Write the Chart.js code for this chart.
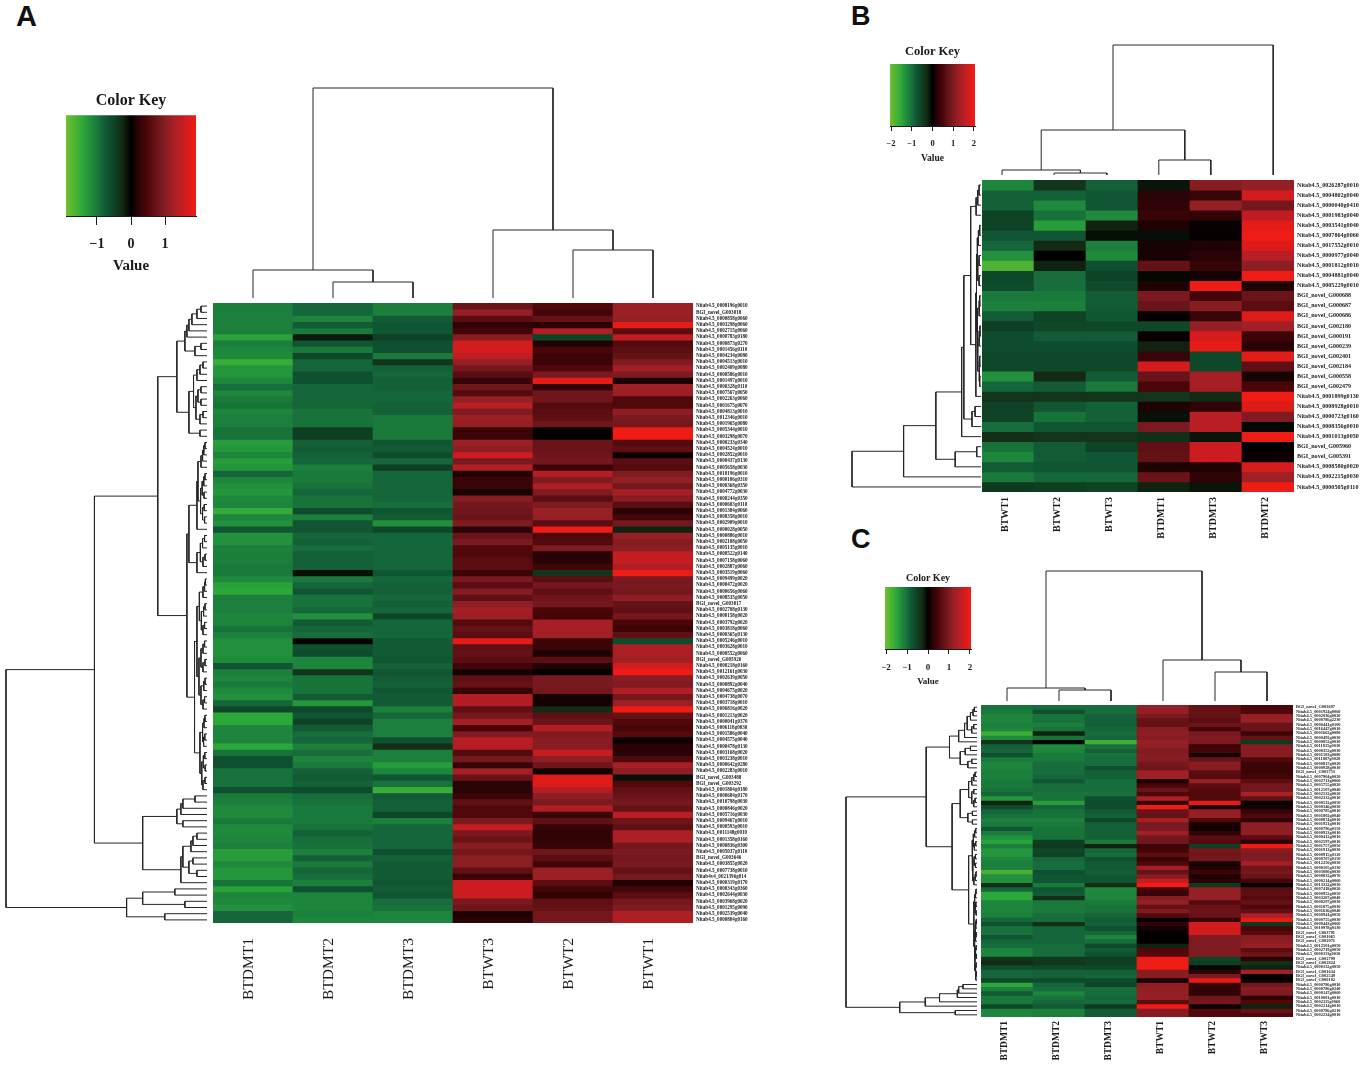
<!DOCTYPE html>
<html>
<head>
<meta charset="utf-8">
<title>Heatmaps</title>
<script src="https://cdn.jsdelivr.net/npm/chart.js@4"></script>
<style>
  html, body { margin: 0; padding: 0; background: #fff; }
  body { position: relative; width: 1366px; height: 1068px; overflow: hidden; }
  canvas { position: absolute; }
  .letter { position: absolute; font-family: "Liberation Sans", sans-serif; font-weight: bold; line-height: 1; color: #111; }
</style>
</head>
<body>
<div class="letter" style="left:16px;top:2px;font-size:29px">A</div>
<div class="letter" style="left:851px;top:3px;font-size:27px">B</div>
<div class="letter" style="left:851px;top:526px;font-size:27px">C</div>
<script>
// Colour ramp (value -> colour)
const rampValues = [-1.9, -1.4, -1.15, -1.0, -0.85, -0.65, -0.45, -0.25, 0, 0.2, 0.45, 0.65, 0.9, 1.15, 1.35, 1.55, 1.85, 1.9];
const rampColors = ['#72bf2e', '#2ca83a', '#1f8a3c', '#1a7a3c', '#15663a', '#0f5030', '#0f3f22', '#142a14', '#000000', '#2a0306', '#4a0508', '#601014', '#7a1a20', '#9a2026', '#b21e24', '#cc1c20', '#ee1c14', '#ee1c14'];

// Panel A
const colsA = ['BTDMT1', 'BTDMT2', 'BTDMT3', 'BTWT3', 'BTWT2', 'BTWT1'];
const keyTicksA = [-1, 0, 1];
const rowsA = ['Nitab4.5_0008196g0010','BGI_novel_G003018','Nitab4.5_0000858g0060','Nitab4.5_0003298g0060','Nitab4.5_0002715g0060','Nitab4.5_0000783g0180','Nitab4.5_0000873g0270','Nitab4.5_0001456g0110','Nitab4.5_0004234g0080','Nitab4.5_0004513g0010','Nitab4.5_0002409g0080','Nitab4.5_0000586g0010','Nitab4.5_0001497g0010','Nitab4.5_0000328g0110','Nitab4.5_0007567g0050','Nitab4.5_0002263g0060','Nitab4.5_0001675g0070','Nitab4.5_0004813g0010','Nitab4.5_0012346g0010','Nitab4.5_0001965g0080','Nitab4.5_0005344g0010','Nitab4.5_0003298g0070','Nitab4.5_0000233g0340','Nitab4.5_0004524g0010','Nitab4.5_0002852g0010','Nitab4.5_0000437g0130','Nitab4.5_0005658g0030','Nitab4.5_0010196g0010','Nitab4.5_0000106g0310','Nitab4.5_0000368g0350','Nitab4.5_0004772g0030','Nitab4.5_0000244g0350','Nitab4.5_0000683g0110','Nitab4.5_0001384g0060','Nitab4.5_0008358g0010','Nitab4.5_0002909g0010','Nitab4.5_0000028g0050','Nitab4.5_0000886g0010','Nitab4.5_0002108g0050','Nitab4.5_0005135g0010','Nitab4.5_0000522g0140','Nitab4.5_0007158g0060','Nitab4.5_0002887g0060','Nitab4.5_0003519g0060','Nitab4.5_0009499g0020','Nitab4.5_0000472g0020','Nitab4.5_0000656g0060','Nitab4.5_0008535g0050','BGI_novel_G003017','Nitab4.5_0002708g0130','Nitab4.5_0000158g0020','Nitab4.5_0003792g0020','Nitab4.5_0003818g0060','Nitab4.5_0000365g0130','Nitab4.5_0005246g0010','Nitab4.5_0003628g0010','Nitab4.5_0000552g0060','BGI_novel_G005926','Nitab4.5_0000218g0160','Nitab4.5_0012161g0030','Nitab4.5_0002639g0050','Nitab4.5_0000892g0040','Nitab4.5_0004675g0020','Nitab4.5_0004738g0070','Nitab4.5_0003718g0010','Nitab4.5_0006816g0020','Nitab4.5_0001213g0020','Nitab4.5_0000041g0370','Nitab4.5_0006118g0030','Nitab4.5_0001586g0040','Nitab4.5_0004575g0040','Nitab4.5_0000478g0130','Nitab4.5_0003168g0020','Nitab4.5_0003238g0010','Nitab4.5_0000642g0280','Nitab4.5_0002283g0010','BGI_novel_G003488','BGI_novel_G003292','Nitab4.5_0001804g0180','Nitab4.5_0000684g0170','Nitab4.5_0010798g0030','Nitab4.5_0000846g0020','Nitab4.5_0005716g0030','Nitab4.5_0009467g0010','Nitab4.5_0000593g0010','Nitab4.5_0011148g0010','Nitab4.5_0001358g0160','Nitab4.5_0000836g0300','Nitab4.5_0005037g0110','BGI_novel_G003646','Nitab4.5_0003855g0020','Nitab4.5_0007738g0010','Nitab4v4_0021396g014','Nitab4.5_0000319g0170','Nitab4.5_0000343g0360','Nitab4.5_0002644g0030','Nitab4.5_0003968g0020','Nitab4.5_0001295g0090','Nitab4.5_0002539g0040','Nitab4.5_0000804g0160'];
const valuesA = [
[-1.05,-.85,-1.05,.75,.5,1.15],[-1.05,-.85,-1.05,1.1,.4,1.15],[-1.05,-1.1,-.75,.6,.7,1.1],[-1.05,-.75,-.7,.25,.2,1.8],[-1.05,-1,-.7,.4,1.35,.6],
[-1.35,-.15,-.5,1,-.5,1.45],[-1.05,-.7,-.65,1.6,.15,.55],[-1.1,-1,-.65,1.6,.45,.6],[-1.15,-.55,-1,1.45,.35,.7],[-1.5,-.85,-.35,1.1,.35,.95],
[-1.25,-.85,-.8,.85,.5,1.2],[-1.25,-.65,-.85,.6,.9,.95],[-1.1,-.65,-.8,.3,1.8,.12],[-.9,-.85,-.8,.8,.25,1.2],[-1.1,-.85,-.85,.55,.8,1.15],
[-1,-.85,-.85,1.1,.8,.5],[-.95,-.85,-.8,1.4,.55,.5],[-1.1,-.95,-.8,.95,.6,1.05],[-1.05,-.95,-1,1.15,.65,.9],[-1.05,-.95,-1,1.1,.8,.85],
[-.95,-.45,-1,.35,.02,1.85],[-.95,-.45,-1,.35,.02,1.85],[-1.3,-.8,-.7,1.15,.75,.55],[-1.25,-.75,-.75,1.05,.75,.65],[-1.1,-.8,-.6,1.55,.8,.05],
[-1.3,-.85,-.85,.9,.85,.6],[-1.25,-1.05,-.45,1.35,.35,.55],[-.85,-1,-.85,.15,1.35,.95],[-1.1,-1,-.85,.35,.95,1.1],[-1.2,-.95,-.85,.3,1.3,.85],
[-1.25,-.85,-.85,.12,.95,1.25],[-1.15,-.95,-.85,1,.6,1],[-1.1,-.95,-.9,.85,.95,.6],[-1.45,-.6,-.7,.8,1.15,.2],[-1.1,-1.05,-.75,.75,1.1,.4],
[-1.2,-.7,-1.2,.95,.6,.85],[-.7,-.7,-.55,.2,1.9,-.2],[-1.2,-.85,-.85,.75,.5,1.1],[-1.2,-.8,-.85,.9,.55,1],[-1.05,-.9,-.85,.5,.95,1.05],
[-1.05,-.8,-.85,.5,.2,1.5],[-1.05,-.8,-.85,.6,.2,1.5],[-1,-.8,-.85,.6,.4,1.35],[-1,-.1,-.7,.35,-.35,1.85],[-1.15,-1,-.85,.9,.6,.9],
[-1.35,-.85,-.8,.6,.85,.9],[-1.4,-.7,-.8,1,.65,.85],[-1.05,-.95,-.85,.65,.8,1.05],[-1.05,-.95,-.8,1.05,.85,.7],[-1.05,-.85,-.85,1.25,.45,.65],
[-1.1,-1.2,-.55,1.15,.4,.85],[-1.1,-.75,-.85,.55,1.25,.45],[-.95,-.85,-.85,.7,1.25,.35],[-1.05,-.9,-.85,.6,1.2,.65],[-1.2,-.02,-.75,1.8,.35,-.6],
[-1.2,-.65,-.75,.65,.3,1.3],[-1.2,-.6,-.75,.7,.15,1.3],[-1.15,-1.1,-.7,.6,.6,1.2],[-.7,-1.1,-.8,.4,.15,1.6],[-1.05,-.35,-.7,.1,.02,1.85],
[-1.1,-.95,-.75,.65,.9,1],[-1,-.95,-.8,.7,.9,.95],[-1.15,-.95,-.7,.3,.85,1.35],[-1.2,-.75,-.75,1.35,.1,.85],[-.85,-1.25,-.75,1.35,.1,1.15],
[-.55,-.55,-1.05,.65,-.25,1.85],[-1.4,-.7,-.85,.85,.65,.7],[-1.4,-.5,-1.05,1.25,.75,.5],[-1.1,-.75,-1.05,.45,1.35,.45],[-1.1,-.9,-1.05,.95,.95,.55],
[-1.1,-.85,-.65,1.4,1,.05],[-1.4,-1.05,-.3,1.35,1,.2],[-.95,-.9,-1.05,.55,1.5,.2],[-.65,-1.1,-1.05,.85,1.05,.5],[-.65,-1,-1.3,.3,.8,1.25],
[-.95,-.8,-1.1,1.25,.08,1.05],[-.95,-.75,-.7,.75,1.7,-.1],[-.95,-.8,-.95,.2,1.7,.5],[-.65,-.6,-1.5,.2,1.35,.65],[-1,-.9,-.75,.35,1.05,.75],
[-1.05,-.95,-.8,.65,.9,.85],[-1.15,-1,-.8,.5,1.35,.7],[-1.15,-1,-.55,.5,.3,1.4],[-1,-1,-1.05,.9,.65,.8],[-1.15,-.95,-.85,1.5,.3,.65],
[-1.15,-.8,-.85,.9,.25,1.3],[-1.1,-.9,-.85,.75,.25,1.3],[-1.05,-.95,-.85,1,.3,.85],[-1.3,-1.05,-.65,.85,.8,.9],[-1.3,-.8,-.8,1.05,.6,.85],
[-1.15,-1,-.75,1.05,.4,.9],[-1.25,-.85,-.75,.65,1.15,.7],[-1.25,-.9,-.75,.35,1.15,.85],[-.95,-1.05,-.7,1.55,.6,.15],[-1.35,-.65,-.75,1.55,.4,.4],
[-1.1,-1.1,-.7,1.55,.25,.6],[-1.15,-1.1,-.9,.9,.65,.85],[-1.2,-1.1,-.95,.8,.7,.95],[-.85,-1.05,-1.1,.15,.85,1.3],[-.85,-1.1,-1.1,.2,.85,1.3]
];
// Dendrograms: [height, left, right], 0 is the next leaf in order
const treeRowsA = [100,[56,[24.5,[15,[11,[10,[9,[7.5,[5,[3,0,0],0],0],0],0],[6,[3,0,0],0]],[9,[6.7,[5,[3.5,[2,0,0],0],0],[5.5,[4.5,[3,0,0],[3,0,0]],[3.5,[2,0,0],0]]],[3.5,0,0]]],[10,[9,[5,[4.5,[3,[2.2,[1.6,[1,0,0],0],0],0],[3.2,[2.4,[1.6,[1,0,0],0],[1.5,0,0]],[2.2,[1.4,0,0],[1.2,0,0]]]],0],[5,[3.3,[2.2,[1.2,0,0],0],[2,[1,0,0],0]],0]],[6.2,[5,[3.8,[2,[1.2,[.8,0,0],0],0],[2.8,[1.7,[1,0,0],0],[2,[1.2,0,0],0]]],[4,[3,[2,[1.2,0,0],0],[2,[1,0,0],0]],[3,[1.6,[1,0,0],0],[2,[1.2,0,0],0]]]],[3.5,[2.2,[1.5,[1,0,0],0],[1.7,[1.1,0,0],0]],[2.6,[1.8,[1.1,0,0],[.9,0,0]],[2,[1,0,0],0]]]]]],[32,[15,[13,[12,[6,0,0],0],0],[12,0,0]],[13,[12,[8,[7,[5,0,0],0],0],[9,[7,0,0],[5,0,0]]],0]]],[40,[32,[16,0,0],[11,0,0]],[21,0,0]]];
const treeColsA = [210,[28,0,[16,0,0]],[68,0,[48,0,0]]];

// Panel B
const colsB = ['BTWT1', 'BTWT2', 'BTWT3', 'BTDMT1', 'BTDMT3', 'BTDMT2'];
const keyTicksB = [-2, -1, 0, 1, 2];
const rowsB = ['Nitab4.5_0026287g0010','Nitab4.5_0004802g0040','Nitab4.5_0000040g0410','Nitab4.5_0001983g0040','Nitab4.5_0003541g0040','Nitab4.5_0007864g0060','Nitab4.5_0017552g0010','Nitab4.5_0000977g0040','Nitab4.5_0001812g0010','Nitab4.5_0004881g0040','Nitab4.5_0005229g0010','BGI_novel_G000688','BGI_novel_G000687','BGI_novel_G000686','BGI_novel_G002180','BGI_novel_G000191','BGI_novel_G000239','BGI_novel_G002401','BGI_novel_G002184','BGI_novel_G000558','BGI_novel_G002479','Nitab4.5_0001899g0130','Nitab4.5_0008928g0010','Nitab4.5_0000723g0160','Nitab4.5_0008356g0010','Nitab4.5_0001013g0050','BGI_novel_G005960','BGI_novel_G005391','Nitab4.5_0008580g0020','Nitab4.5_0002215g0030','Nitab4.5_0000505g0110'];
const valuesB = [
[-1.1,-.35,-.8,-.12,1,1.1],[-.8,-.8,-.7,.2,.3,1.6],[-.8,-1.15,-.7,.25,1.1,.85],[-.5,-.95,-1.15,.3,.25,1.45],[-.5,-1.3,-.2,.15,.04,1.75],
[-.7,-.7,-.07,-.08,.03,1.9],[-.85,-.25,-1.05,.12,.15,1.7],[-1.2,0,-1.15,.12,.2,1.4],[-1.65,-.2,-.65,.7,.3,1.05],[-.55,-.9,-.5,-.05,.1,2],
[-.6,-.9,-.6,.15,1.85,.15],[-1,-1,-.75,.9,.4,.75],[-1.05,-1.05,-.75,.75,1,.6],[-.75,-.5,-.7,.03,.3,1.7],[-.45,-.55,-.55,-.55,1.1,1.2],
[-.6,-.75,-.75,.03,1.65,.35],[-.6,-.6,-.6,-.2,1.8,.2],[-.55,-.55,-.55,.3,-.55,1.75],[-.55,-.55,-.55,1.6,-.55,.65],[-1.2,-.25,-.75,.75,1.25,.12],
[-.85,-.75,-1,.45,1.25,.45],[-.35,-.35,-.35,-.35,-.25,2],[-.5,-.7,-.8,.15,.25,1.7],[-.5,-.95,-.8,-.1,1.4,.95],[-.9,-.7,-.7,.9,1.4,-.05],
[-.3,-.35,-.35,-.3,-.12,2],[-.95,-.75,-.5,.65,1.55,0],[-1.1,-.75,-.7,.7,1.55,.05],[-.75,-.7,-.7,.15,.15,1.65],[-1,-.85,-.85,.75,.25,1.2],
[-.4,-.45,-.5,-.2,-.12,2]
];
const treeRowsB = [100,[60,[35,[15,[13.3,[8,[3.8,[2.5,[1.5,0,0],0],0],[4,[3.5,[3,[2,[1,0,0],0],[2.5,[1.5,0,0],[1.5,0,0]]],[3,[1.5,[1,0,0],0],[2.5,[1.5,[.8,0,0],0],[1.5,[1,0,0],[1,0,0]]]]],0]],[7,[4.6,0,0],0]],0],[20,[3.3,0,0],0]],0],0];
const treeColsB = [130,[45,[5,0,[2,0,0]],[15,0,0]],0];
const leafColsB = [0.385, 1.385, 2.4, 3.4, 4.4, 5.6]; // the upper tree sits off the column centres in this panel

// Panel C
const colsC = ['BTDMT1', 'BTDMT2', 'BTDMT3', 'BTWT1', 'BTWT2', 'BTWT3'];
const keyTicksC = [-2, -1, 0, 1, 2];
const rowsC = ['BGI_novel_G003697','Nitab4.5_0001924g0060','Nitab4.5_0002036g0020','Nitab4.5_0000786g2230','Nitab4.5_0000441g0100','Nitab4.5_0016447g0010','Nitab4.5_0001662g0080','Nitab4.5_0000492g0030','Nitab4.5_0000852g0030','Nitab4.5_0011815g0010','Nitab4.5_0000352g0030','Nitab4.5_0001583g0080','Nitab4.5_0011807g0020','Nitab4.5_0000817g0020','Nitab4.5_0000928g0010','BGI_novel_G003753','Nitab4.5_0007904g0020','Nitab4.5_0002713g0060','Nitab4.5_0005755g0020','Nitab4.5_0012507g0040','Nitab4.5_0002532g0020','Nitab4.5_0002332g0010','Nitab4.5_0000532g0050','Nitab4.5_0000346g0030','Nitab4.5_0000785g0010','Nitab4.5_0001802g0040','Nitab4.5_0000874g0010','Nitab4.5_0001921g0010','Nitab4.5_0000796g0150','Nitab4.5_0000923g0010','Nitab4.5_0000412g0010','Nitab4.5_0002597g0010','Nitab4.5_0001757g0050','Nitab4.5_0001913g0030','Nitab4.5_0000915g0120','Nitab4.5_0000707g0150','Nitab4.5_0012250g0030','Nitab4.5_0000105g0130','Nitab4.5_0003080g0030','Nitab4.5_0000832g0070','Nitab4.5_0000214g0060','Nitab4.5_0013322g0030','Nitab4.5_0007418g0020','Nitab4.5_0000952g0050','Nitab4.5_0003287g0040','Nitab4.5_0000297g0030','Nitab4.5_0001875g0030','Nitab4.5_0001636g0040','Nitab4.5_0000941g0050','Nitab4.5_0000755g0030','Nitab4.5_0000443g0060','Nitab4.5_0010978g0130','BGI_novel_G003791','BGI_novel_G001065','BGI_novel_G002071','Nitab4.5_0012501g0050','Nitab4.5_0002719g0050','Nitab4.5_0000113g0010','BGI_novel_G002799','BGI_novel_G002824','Nitab4.5_0000132g0050','BGI_novel_G001634','BGI_novel_G002549','BGI_novel_G000102','Nitab4.5_0000786g0010','Nitab4.5_0000786g0240','Nitab4.5_0000147g0060','Nitab4.5_0010001g0010','Nitab4.5_0002115g0060','Nitab4.5_0002214g0010','Nitab4.5_0000786g0210','Nitab4.5_0002234g0010'];
const valuesC = [
[-.95,-.9,-.9,1.1,.7,.45],[-1,-.65,-.9,1.1,.7,.5],[-1.1,-.95,-.8,.9,.7,1.1],[-1.1,-.95,-.8,.7,.6,1.15],[-1.05,-1.05,-.8,.7,.75,.75],
[-1.1,-.95,-.85,1,.4,.75],[-1.5,-.2,-.9,1.05,.9,.35],[-1.15,-.95,-.85,1,.95,.7],[-.35,-.02,-1.55,1.1,.9,-.4],[-.8,-1.15,-.95,1.05,.35,1],
[-.85,-1.1,-.8,.95,.4,1],[-.65,-1,-.95,1,.1,1],[-1,-1,-.9,1,.75,.5],[-1.1,-.9,-.9,.85,1,.35],[-1.1,-.9,-.65,.8,1,.35],
[-1.05,-.9,-.8,1.2,.6,.35],[-1.05,-.85,-.8,1.2,.55,.4],[-1,-.7,-.9,.15,1.1,.6],[-1,-.9,-.9,.45,.6,.85],[-.95,-.9,-.9,.75,.55,.85],
[-.85,-.95,-.95,.5,.5,1.3],[-1.25,-.95,-.65,1.3,.5,.7],[-.2,-1.3,-.6,.3,1.75,.03],[-.6,-.85,-.6,1.9,.15,.1],[-.85,-.95,-.75,.75,1.1,.3],
[-.95,-.95,-.8,.7,1.1,.5],[-1.05,-1.05,-.55,1.25,.5,.25],[-1,-1,-.8,.9,.12,1.05],[-.7,-.95,-.8,.9,.08,1.05],[-1,-.95,-.8,1.2,.25,1.05],
[-1.2,-.95,-.8,.85,.6,.6],[-1.35,-.45,-1,.8,.55,.25],[-1.05,-.4,-.2,.35,-.45,1.85],[-1.25,-.55,-.85,.4,.85,1],[-1.25,-.5,-.9,.6,.8,.95],
[-1.1,-.85,-.65,.3,.85,.95],[-1.05,-.9,-.75,.5,.1,1.25],[-1.05,-.9,-.75,1.2,.15,.8],[-1.6,-.65,-.8,.7,.35,.85],[-1.2,-.7,-.7,1,.15,.75],
[-1.2,-.7,-.7,1.5,.2,.4],[-.3,-1,-.3,1.95,-.4,.03],[-.85,-.7,-1.15,.4,1.1,.6],[-1.4,-.75,-1.1,.3,1.1,.65],[-1.4,-.3,-1.1,1,1.1,.55],
[-1.1,-1,-1,1.1,.55,.7],[-1.1,-1,-.95,.7,.75,.5],[-1.1,-1,-.95,.95,.75,.65],[-1.05,-.9,-.85,.55,.75,1.3],[-.85,-.9,-.75,.03,.3,1.8],
[-.65,-.3,-.8,.25,1.6,-.35],[-.95,-.85,-.65,.1,1.6,.45],[-.95,-.85,-.85,.02,1.6,.55],[-.7,-.85,-1.1,.02,.95,1],[-.85,-.85,-.9,.02,.95,1.05],
[-.9,-.9,-.6,-.2,.95,1.1],[-1.1,-.9,-.75,.5,.95,.6],[-1.1,-.9,-.65,.55,.95,.8],[-.35,-.4,-.45,1.9,-.5,.2],[-.25,-.35,-.45,1.9,-.45,-.3],
[-.6,-.55,-.55,1.9,-.05,-.2],[-.85,-.8,-.8,1,.2,1.25],[-.85,-.8,-.85,1,.9,.03],[-.55,-.6,-.6,.12,1.8,.03],[-1.4,-.85,-.5,1.05,.3,.85],
[-1.05,-.9,-.9,1.1,.25,1],[-.75,-1.1,-.9,1.1,.25,.95],[-1,-.95,-.85,1.1,.8,.25],[-1,-.85,-.9,.6,.85,.5],[-.55,-.75,-.4,1.85,.05,-.2],
[-1.1,-1.05,-.75,1,.5,.7],[-1.1,-1.05,-.75,1,.5,.5]
];
const treeRowsC = [100,[38.8,[21,[14,[9.5,[7.5,[5,[3,[2,0,0],0],0],[4,[2.5,0,0],0]],0],0],[12.8,[9,[5,0,0],0],[7,[4,0,0],0]]],[19,[12.8,[6.4,[4,[2.5,[1.5,0,0],0],0],[4,[2.5,0,0],[2.5,[1.5,0,0],0]]],[7,[3.5,0,0],[3.5,0,0]]],[6.4,[3.8,[2.8,[1.8,[1,0,0],0],[2,[1,0,0],0]],[3.2,[2.2,[1.2,0,0],[1.2,0,0]],[2.4,[1.4,[.8,0,0],0],0]]],[2.4,[1.8,[1.2,[.8,0,0],0],[1.4,[.9,0,0],[.7,0,0]]],[2,[1.5,[1,[.6,0,0],0],[1.1,[.7,0,0],0]],[1.6,[1.1,[.7,0,0],[.6,0,0]],[1.2,[.7,0,0],[.9,[.5,0,0],0]]]]]]]],[59,[39.5,[28.6,[15,[14,[10.7,0,0],0],0],0],0],[16.6,0,0]]];
const treeColsC = [130,[13,0,[11,0,0]],[41,0,[29,0,0]]];

const SERIF = '"Liberation Serif", serif';
const INK = '#1a1a1a';
const PAD = 2;

Chart.defaults.animation = false;
Chart.defaults.responsive = false;
Chart.defaults.plugins.legend.display = false;
Chart.defaults.plugins.tooltip.enabled = false;
Chart.defaults.font.family = SERIF;
Chart.defaults.color = INK;

function hexToRgb(hex) {
  return [1, 3, 5].map(i => parseInt(hex.substr(i, 2), 16));
}

function shade(v) {
  if (v <= rampValues[0]) return rampColors[0];
  for (let i = 1; i < rampValues.length; i++) {
    if (v <= rampValues[i]) {
      const f = (v - rampValues[i - 1]) / (rampValues[i] - rampValues[i - 1]);
      const a = hexToRgb(rampColors[i - 1]);
      const b = hexToRgb(rampColors[i]);
      return `rgb(${a.map((c, k) => Math.round(c + (b[k] - c) * f)).join(',')})`;
    }
  }
  return rampColors[rampColors.length - 1];
}

function addCanvas(x, y, w, h) {
  const c = document.createElement('canvas');
  c.width = w;
  c.height = h;
  c.style.left = x + 'px';
  c.style.top = y + 'px';
  c.style.width = w + 'px';
  c.style.height = h + 'px';
  document.body.appendChild(c);
  return c;
}

function noPadding(scale) {
  scale.paddingTop = scale.paddingBottom = scale.paddingLeft = scale.paddingRight = 0;
}

// Heatmap: every cell is a floating bar, one dataset per row
function drawHeat(box, cols, rows, values, style) {
  const canvas = addCanvas(box.x, box.y, box.w + style.labelW, box.h + style.colH);
  const overlap = 0.12; // hides the hairlines between rows
  new Chart(canvas, {
    type: 'bar',
    data: {
      labels: cols,
      datasets: values.map((row, r) => ({
        data: row.map(() => [r - overlap, r + 1]),
        backgroundColor: row.map(shade),
        barPercentage: 1,
        categoryPercentage: 1,
        grouped: false,
      })),
    },
    options: {
      layout: { padding: 0 },
      scales: {
        x: {
          grid: { display: false, drawTicks: false },
          border: { display: false },
          ticks: { minRotation: 90, maxRotation: 90, padding: style.colPad, labelOffset: style.colShift, autoSkip: false,
            font: { size: style.colFont, weight: style.colWeight } },
          afterFit: s => { s.height = style.colH; noPadding(s); },
        },
        y: {
          type: 'linear', position: 'right', min: 0, max: rows.length, reverse: true,
          grid: { display: false, drawTicks: false },
          border: { display: false },
          afterBuildTicks: s => { s.ticks = rows.map((_, i) => ({ value: i + 0.5 })); },
          ticks: { autoSkip: false, minRotation: 0, maxRotation: 0, padding: style.labelPad,
            font: { size: style.labelFont, weight: 'bold' },
            callback: (v, i) => rows[i] },
          afterFit: s => { s.width = style.labelW; noPadding(s); },
        },
      },
    },
  });
}

// walk a tree and return its elbows as points, with gaps between them
function treeSegments(tree, leafPos) {
  const pts = [];
  let next = 0;
  function walk(node) {
    if (!Array.isArray(node)) {
      const pos = leafPos ? leafPos[next] : next + 0.5;
      next++;
      return { pos, h: 0 };
    }
    const a = walk(node[1]);
    const b = walk(node[2]);
    pts.push([a.pos, a.h], [a.pos, node[0]], [b.pos, node[0]], [b.pos, b.h], null);
    return { pos: (a.pos + b.pos) / 2, h: node[0] };
  }
  walk(tree);
  return pts;
}

function drawDendro(box, tree, horizontal, count, leafPos) {
  const canvas = addCanvas(box.x - PAD, box.y - PAD, box.w + PAD * 2, box.h + PAD * 2);
  const top = tree[0];
  const data = treeSegments(tree, leafPos).map(p => {
    if (!p) return { x: null, y: null };
    return horizontal ? { x: p[1], y: p[0] } : { x: p[0], y: p[1] };
  });
  new Chart(canvas, {
    type: 'scatter',
    data: { datasets: [{ data, showLine: true, spanGaps: false, pointRadius: 0, borderWidth: 1, borderColor: '#262626', clip: false }] },
    options: {
      layout: { padding: PAD },
      scales: horizontal
        ? { x: { type: 'linear', display: false, min: 0, max: top, reverse: true },
            y: { type: 'linear', display: false, min: 0, max: count, reverse: true } }
        : { x: { type: 'linear', display: false, min: 0, max: count },
            y: { type: 'linear', display: false, min: 0, max: top } },
    },
  });
}

// Colour key: one floating bar filled with the ramp
function drawKey(box, limit, ticks, style) {
  const titleH = style.titleFont * 1.2 + style.titlePad;
  const canvas = addCanvas(box.x - 12, box.y - titleH, box.w + 24, box.h + titleH + style.axisH);
  new Chart(canvas, {
    type: 'bar',
    data: {
      labels: ['key'],
      datasets: [{
        data: [[-limit, limit]],
        barPercentage: 1,
        categoryPercentage: 1,
        backgroundColor: ctx => {
          const area = ctx.chart.chartArea;
          if (!area) return '#000';
          const g = ctx.chart.ctx.createLinearGradient(area.left, 0, area.right, 0);
          rampValues.forEach((v, i) => g.addColorStop((v / 1.9 + 1) / 2, rampColors[i]));
          return g;
        },
      }],
    },
    options: {
      indexAxis: 'y',
      layout: { padding: { left: 12, right: 12 } },
      plugins: {
        title: { display: true, text: 'Color Key', color: INK, padding: { top: 0, bottom: style.titlePad },
          font: { size: style.titleFont, weight: 'bold' } },
      },
      scales: {
        y: { display: false },
        x: {
          type: 'linear', min: -limit, max: limit,
          grid: { drawOnChartArea: false, tickLength: style.tickLen, color: INK },
          border: { display: true, color: INK },
          afterBuildTicks: s => { s.ticks = ticks.map(value => ({ value })); },
          ticks: { padding: style.tickPad, autoSkip: false, maxRotation: 0,
            font: { size: style.tickFont, weight: 'bold' },
            callback: v => String(v).replace('-', '\u2212') },
          title: { display: true, text: 'Value', color: INK, padding: 0,
            font: { size: style.valueFont, weight: 'bold' } },
          afterFit: s => { s.height = style.axisH; noPadding(s); },
        },
      },
    },
  });
}

// Panel A
drawHeat({ x: 213, y: 303, w: 480, h: 620 }, colsA, rowsA, valuesA,
  { labelW: 62, labelPad: 3, labelFont: 5.1, colH: 90, colPad: 15, colShift: -4, colFont: 15.5, colWeight: 'normal' });
drawDendro({ x: 6, y: 303, w: 201, h: 620 }, treeRowsA, true, rowsA.length);
drawDendro({ x: 213, y: 88, w: 480, h: 210 }, treeColsA, false, colsA.length);
drawKey({ x: 66, y: 115, w: 130, h: 101 }, 1.91, keyTicksA,
  { titleFont: 16, titlePad: 5, axisH: 59, tickLen: 9, tickPad: 11, tickFont: 14, valueFont: 15 });

// Panel B
drawHeat({ x: 982, y: 180, w: 312, h: 312 }, colsB, rowsB, valuesB,
  { labelW: 70, labelPad: 3, labelFont: 6.1, colH: 60, colPad: 5, colShift: -3, colFont: 10, colWeight: 'bold' });
drawDendro({ x: 852, y: 180, w: 129, h: 312 }, treeRowsB, true, rowsB.length);
drawDendro({ x: 982, y: 45, w: 312, h: 130 }, treeColsB, false, colsB.length, leafColsB);
drawKey({ x: 890, y: 64, w: 85, h: 62 }, 2.05, keyTicksB,
  { titleFont: 12.5, titlePad: 5, axisH: 38, tickLen: 5, tickPad: 8, tickFont: 8.5, valueFont: 9.5 });

// Panel C
drawHeat({ x: 981, y: 705, w: 312, h: 312 }, colsC, rowsC, valuesC,
  { labelW: 70, labelPad: 3, labelFont: 4.4, colH: 48, colPad: 4, colShift: -2, colFont: 9.5, colWeight: 'bold' });
drawDendro({ x: 846, y: 705, w: 131, h: 312 }, treeRowsC, true, rowsC.length);
drawDendro({ x: 981, y: 571, w: 312, h: 130 }, treeColsC, false, colsC.length);
drawKey({ x: 885, y: 587, w: 86, h: 62 }, 2.05, keyTicksC,
  { titleFont: 10, titlePad: 3, axisH: 38, tickLen: 5, tickPad: 8, tickFont: 9, valueFont: 9 });
</script>
</body>
</html>
